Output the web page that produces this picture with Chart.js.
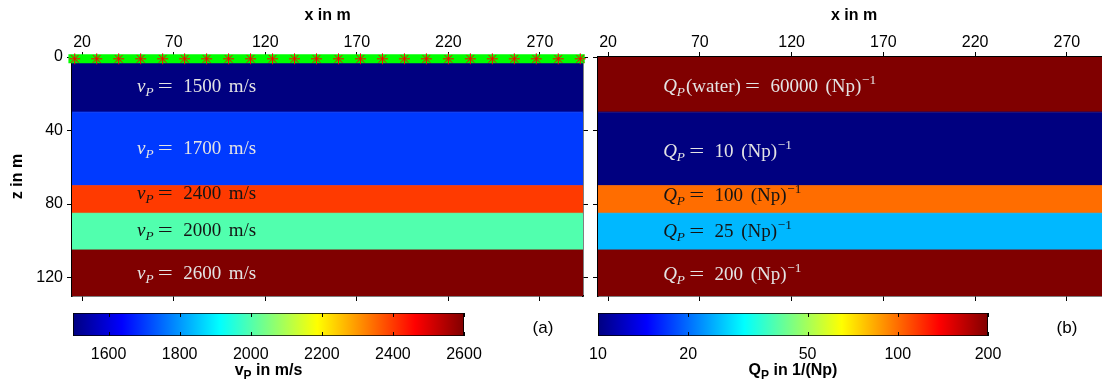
<!DOCTYPE html>
<html>
<head>
<meta charset="utf-8">
<title>layered model</title>
<script src="https://cdn.jsdelivr.net/npm/chart.js@4/dist/chart.umd.min.js"></script>
<style>
html,body{margin:0;padding:0;background:#fff;overflow:hidden}
#wrap{position:relative;width:1102px;height:381px;overflow:hidden}
canvas{position:absolute}
</style>
</head>
<body>
<div id="wrap">
<canvas id="velo" width="590" height="310" style="left:0;top:0"></canvas>
<canvas id="qual" width="520" height="310" style="left:590px;top:0"></canvas>
<canvas id="cbVelo" width="590" height="76" style="left:0;top:305px"></canvas>
<canvas id="cbQual" width="512" height="76" style="left:590px;top:305px"></canvas>
</div>
<script>
// model layers (depth in m)
var layerTop=[0,30,70,85,105]
var layerBottom=[30,70,85,105,130]
var vp=[1500,1700,2400,2000,2600]
var qp=[60000,10,100,25,200]
var qpNote=['water','','','','']

// axes
var xRange=[14.5,293.5]
var zRange=[0,130]
var xTicks=[20,70,120,170,220,270]
var zTicks=[0,40,80,120]
var vpRange=[1500,2600]
var qpRange=[10,200]
var vpTicks=[1600,1800,2000,2200,2400,2600]
var qpTicks=[10,20,50,100,200]

// acquisition at the surface
var srcX=[16,28,40,52,64,76,88,100,112,124,136,148,160,172,184,196,208,220,232,244,256,268,280,292]
var recX=[15,292]
var surfaceZ=1

Chart.defaults.font.family='"Liberation Sans", Arial, sans-serif'
Chart.defaults.color='#000'

function jetRGB(t){
  t=Math.max(0,Math.min(1,t))
  var f=function(c){return Math.round(255*Math.max(0,Math.min(1,1.5-Math.abs(4*t-c))))}
  return [f(3),f(2),f(1)]
}
function jet(t){var c=jetRGB(t);return 'rgb('+c.join(',')+')'}
function vpT(v){return (v-vpRange[0])/(vpRange[1]-vpRange[0])}
function qpT(q){return Math.log(q/qpRange[0])/Math.log(qpRange[1]/qpRange[0])}

function fixedTicks(list){
  return function(s){s.ticks=list.map(function(v){return {value:v}})}
}

function layerSets(ts){
  var bounds=layerTop.concat([layerBottom[layerBottom.length-1]])
  return bounds.map(function(z,i){
    var below=i<ts.length&&i>0?jet(ts[i]):'rgba(0,0,0,0)'
    return {
      data:[{x:xRange[0],y:z},{x:xRange[1],y:z}],
      showLine:true,borderWidth:1,borderColor:below,
      pointRadius:0,fill:i==0?false:'-1',
      backgroundColor:i==0?'rgba(0,0,0,0)':jet(ts[i-1]),
      order:3
    }
  })
}

// draws a small piece of math notation, glyph by glyph
function drawMath(ctx,x,y,parts,size){
  parts.forEach(function(p){
    var s=size*(p.scale||1),k=p.sx||1
    x+=(p.pre||0)*size
    ctx.font=(p.italic?'italic ':'')+s+'px "Liberation Serif", serif'
    ctx.save()
    ctx.translate(x,y+(p.dy||0)*size)
    ctx.scale(k,1)
    ctx.fillText(p.t,0,0)
    ctx.restore()
    x+=ctx.measureText(p.t).width*k+(p.post||0)*size
  })
}

function vpLabel(v){
  return [{t:'v',italic:true},{t:'P',italic:true,scale:0.7,dy:0.2},
    {t:'=',pre:0.22,post:0.55,sx:1.4},{t:String(v)},{t:'m/s',pre:0.4}]
}
function qpLabel(q,note){
  var p=[{t:'Q',italic:true},{t:'P',italic:true,scale:0.7,dy:0.2}]
  if(note) p.push({t:'('+note+')',pre:0.05})
  return p.concat([{t:'=',pre:0.22,post:0.55,sx:1.4},{t:String(q)},{t:'(Np)',pre:0.4},
    {t:'\u22121',scale:0.7,dy:-0.42,pre:0.03}])
}

function layerText(labels,ts,zs){
  return {
    id:'layerText',
    afterDatasetsDraw:function(chart){
      var ctx=chart.ctx,sx=chart.scales.x,sy=chart.scales.y
      ctx.save()
      ctx.textBaseline='alphabetic'
      labels.forEach(function(parts,i){
        var c=jetRGB(ts[i])
        var lum=0.299*c[0]+0.587*c[1]+0.114*c[2]
        ctx.fillStyle=lum<100?'#e4e4e4':'#141414'
        drawMath(ctx,sx.getPixelForValue(50),sy.getPixelForValue(zs[i]),parts,19)
      })
      ctx.restore()
    }
  }
}

var tickFont={size:16}
var titleFont={size:16,weight:'bold'}
var gridOut={drawOnChartArea:false,tickLength:5,color:'#000',lineWidth:1}
var edge={color:'#000',width:1.5}

function xAxes(){
  return {
    x:{type:'linear',position:'top',min:xRange[0],max:xRange[1],
      afterBuildTicks:fixedTicks(xTicks),afterFit:function(s){s.height=57},
      grid:gridOut,border:edge,z:1,
      ticks:{font:tickFont,padding:0,autoSkip:false,maxRotation:0},
      title:{display:true,text:'x in m',font:titleFont,padding:{top:6,bottom:0}}},
    xb:{type:'linear',position:'bottom',min:xRange[0],max:xRange[1],
      afterBuildTicks:fixedTicks(xTicks),afterFit:function(s){s.height=14},
      grid:gridOut,border:edge,z:1,ticks:{display:false}}
  }
}

function panel(id,ts,labels,zs,withAxisLabels,withSurvey){
  var sets=layerSets(ts)
  if(withSurvey){
    sets.push({data:recX.map(function(x){return {x:x,y:surfaceZ}}),showLine:true,
      borderColor:'#00ff00',borderWidth:9,borderCapStyle:'square',pointRadius:0,fill:false,clip:false,order:2})
    sets.push({data:srcX.map(function(x){return {x:x,y:surfaceZ}}),showLine:false,
      pointStyle:'star',pointRadius:5.5,pointBorderColor:'#ff0000',pointBorderWidth:1,
      pointBackgroundColor:'#ff0000',clip:false,order:1})
  }
  var scales=xAxes()
  if(withAxisLabels){
    scales.y={type:'linear',position:'left',reverse:true,min:zRange[0],max:zRange[1],
      afterBuildTicks:fixedTicks(zTicks),afterFit:function(s){s.width=72},
      grid:gridOut,border:edge,z:1,ticks:{font:tickFont,padding:4},
      title:{display:true,text:'z in m',font:titleFont,padding:{top:8,bottom:0}}}
    scales.yr={type:'linear',position:'right',reverse:true,min:zRange[0],max:zRange[1],
      afterBuildTicks:fixedTicks(zTicks),afterFit:function(s){s.width=7},
      grid:gridOut,border:edge,z:1,ticks:{display:false}}
  }else{
    scales.y={type:'linear',position:'left',reverse:true,min:zRange[0],max:zRange[1],
      afterBuildTicks:fixedTicks(zTicks),afterFit:function(s){s.width=8},
      grid:gridOut,border:edge,z:1,ticks:{display:false}}
  }
  return new Chart(document.getElementById(id),{
    type:'scatter',
    data:{datasets:sets},
    options:{responsive:false,animation:false,
      layout:{padding:0},
      plugins:{legend:{display:false},tooltip:{enabled:false}},
      scales:scales},
    plugins:[layerText(labels,ts,zs)]
  })
}

function jetGradient(chart){
  var a=chart.chartArea
  if(!a) return jet(0)
  var g=chart.ctx.createLinearGradient(a.left,0,a.right,0)
  ;[0,0.125,0.375,0.625,0.875,1].forEach(function(t){g.addColorStop(t,jet(t))})
  return g
}

function cbarDeco(ticks,sym,unit,tag){
  return {
    id:'cbarDeco',
    afterDraw:function(chart){
      var ctx=chart.ctx,a=chart.chartArea,sx=chart.scales.x
      ctx.save()
      ctx.strokeStyle='#000';ctx.lineWidth=1
      ticks.forEach(function(v){
        var px=Math.round(sx.getPixelForValue(v))+0.5
        ctx.beginPath()
        ctx.moveTo(px,a.top);ctx.lineTo(px,a.top+4)
        ctx.moveTo(px,a.bottom);ctx.lineTo(px,a.bottom-4)
        ctx.stroke()
      })
      ctx.fillStyle='#000'
      var f=function(s){return 'bold '+s+'px "Liberation Sans", Arial, sans-serif'}
      ctx.font=f(16);var w1=ctx.measureText(sym).width
      ctx.font=f(12);var w2=ctx.measureText('P').width
      ctx.font=f(16);var w3=ctx.measureText(unit).width
      var x=(a.left+a.right)/2-(w1+w2+w3)/2,y=70
      ctx.font=f(16);ctx.fillText(sym,x,y)
      ctx.font=f(12);ctx.fillText('P',x+w1,y+4)
      ctx.font=f(16);ctx.fillText(unit,x+w1+w2,y)
      ctx.font='17px "Liberation Sans", Arial, sans-serif'
      ctx.textAlign='center';ctx.textBaseline='middle'
      ctx.fillText(tag,a.right+79,23)
      ctx.restore()
    }
  }
}

function colorbar(id,type,range,ticks,pad,sym,unit,tag){
  return new Chart(document.getElementById(id),{
    type:'bar',
    data:{labels:[''],datasets:[{data:[range.slice()],
      backgroundColor:function(c){return jetGradient(c.chart)},
      borderColor:'#000',borderWidth:1.2,borderSkipped:false,
      barPercentage:1,categoryPercentage:1}]},
    options:{indexAxis:'y',responsive:false,animation:false,
      layout:{padding:pad},
      plugins:{legend:{display:false},tooltip:{enabled:false}},
      scales:{
        x:{type:type,min:range[0],max:range[1],position:'bottom',
          afterBuildTicks:fixedTicks(ticks),
          afterFit:function(s){s.height=45;s.paddingLeft=0;s.paddingRight=0},
          grid:{display:false},border:{display:false},
          ticks:{font:tickFont,padding:1,autoSkip:false,maxRotation:0,
            callback:function(v){return String(v)}}},
        y:{display:false}
      }},
    plugins:[cbarDeco(ticks,sym,unit,tag)]
  })
}

var vpLabels=vp.map(vpLabel)
var qpLabels=qp.map(function(q,i){return qpLabel(q,qpNote[i])})
var labelZa=[19.3,52.7,77.4,97.6,121]
var labelZb=[19,54.3,78.5,98,121.5]

panel('velo',vp.map(vpT),vpLabels,labelZa,true,true)
panel('qual',qp.map(qpT),qpLabels,labelZb,false,false)
colorbar('cbVelo','linear',vpRange,vpTicks,{left:73,right:126,top:8,bottom:0},'v',' in m/s','(a)')
colorbar('cbQual','logarithmic',qpRange,qpTicks,{left:8,right:114,top:8,bottom:0},'Q',' in 1/(Np)','(b)')
</script>
</body>
</html>
